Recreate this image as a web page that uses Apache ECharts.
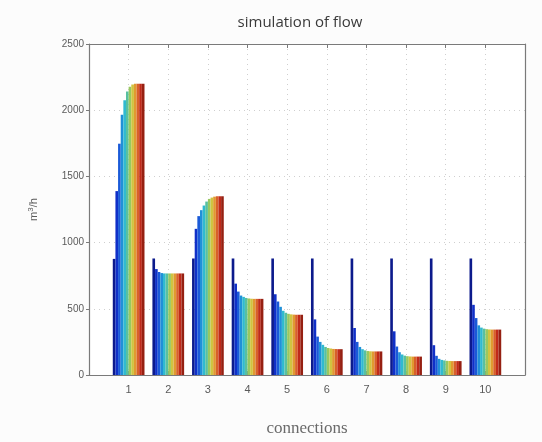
<!DOCTYPE html>
<html>
<head>
<meta charset="utf-8">
<script src="https://cdn.jsdelivr.net/npm/echarts@6/dist/echarts.min.js"></script>
<style>
  html, body { margin: 0; padding: 0; background: #fcfcfc; }
  #chart { width: 542px; height: 442px; }
</style>
</head>
<body>
<div id="chart"></div>
<script>
// flow per connection, one value per simulation step (12 steps)
const conn1 = [877, 1389, 1747, 1966, 2076, 2142, 2178, 2195, 2200, 2200, 2200, 2200];
const conn2 = [880, 800, 778, 770, 767, 767, 767, 767, 767, 767, 767, 767];
const conn3 = [880, 1104, 1200, 1245, 1280, 1310, 1330, 1340, 1347, 1350, 1350, 1350];
const conn4 = [880, 690, 630, 600, 590, 582, 578, 576, 575, 575, 575, 575];
const conn5 = [880, 610, 555, 515, 485, 470, 462, 458, 456, 455, 455, 455];
const conn6 = [880, 420, 290, 250, 228, 212, 204, 200, 197, 196, 195, 195];
const conn7 = [880, 355, 250, 212, 195, 186, 181, 179, 178, 178, 178, 178];
const conn8 = [880, 330, 215, 172, 155, 146, 142, 140, 139, 139, 139, 139];
const conn9 = [880, 225, 145, 122, 114, 110, 107, 106, 105, 105, 105, 105];
const conn10 = [880, 530, 430, 375, 358, 350, 346, 344, 343, 343, 343, 343];

const connections = [1, 2, 3, 4, 5, 6, 7, 8, 9, 10];
const yTicks = [0, 500, 1000, 1500, 2000, 2500];

// jet-like colormap, one colour per step
const stepColors = [
  "#0c1a8c", "#1030c8", "#1a5ad8", "#2090d8", "#30bad0", "#58c0a0",
  "#98c860", "#d0c440", "#e09a30", "#d8602a", "#c02a1a", "#962012",
];

const groups = [conn1, conn2, conn3, conn4, conn5, conn6, conn7, conn8, conn9, conn10];

const series = stepColors.map((color, k) => ({
  type: "bar",
  xAxisIndex: 0,
  yAxisIndex: 0,
  barGap: "0%",
  barCategoryGap: "20%",
  itemStyle: { color: color },
  data: connections.map((c, i) => [c, groups[i][k]]),
}));

const axisGray = "#7a7a7a";
const labelGray = "#5a5a5a";

const option = {
  animation: false,
  backgroundColor: "#fcfcfc",
  title: {
    text: "simulation of flow",
    left: 295,
    textAlign: "center",
    top: 10,
    textStyle: {
      fontFamily: "Open Sans",
      fontWeight: "normal",
      fontSize: 15,
      color: "#3a3a3a",
    },
  },
  grid: { left: 89, right: 17, top: 44, bottom: 56, backgroundColor: "#fff", show: true, borderWidth: 0 },
  xAxis: [
    {
      type: "value",
      min: 0,
      max: 11,
      interval: 1,
      position: "bottom",
      name: "connections",
      nameLocation: "middle",
      nameGap: 45,
      nameTextStyle: { fontFamily: "Liberation Serif", fontSize: 17, color: "#6a6a6a" },
      axisLine: { onZero: false, lineStyle: { color: axisGray, width: 1.2 } },
      axisTick: { inside: true, length: 4, lineStyle: { color: axisGray } },
      axisLabel: {
        color: labelGray,
        fontFamily: "Liberation Sans",
        fontSize: 11,
        margin: 9,
        formatter: (v) => (connections.includes(v) ? String(v) : ""),
      },
      splitLine: { show: true, lineStyle: { color: "#cfcfcf", type: [1, 4] } },
    },
    {
      type: "value",
      min: 0,
      max: 11,
      interval: 1,
      position: "top",
      axisLine: { onZero: false, lineStyle: { color: axisGray, width: 1.2 } },
      axisTick: { inside: true, length: 4, lineStyle: { color: axisGray } },
      axisLabel: { show: false },
      splitLine: { show: false },
    },
  ],
  yAxis: [
    {
      type: "value",
      min: yTicks[0],
      max: yTicks[yTicks.length - 1],
      interval: 500,
      name: "{a|m}{s|3}{a|/h}",
      nameLocation: "middle",
      nameGap: 48,
      nameRotate: 90,
      nameTextStyle: {
        rich: {
          a: { fontFamily: "Liberation Sans", fontSize: 11, color: labelGray },
          s: { fontFamily: "Liberation Sans", fontSize: 8, color: labelGray, verticalAlign: "top", padding: [0, 0, 6, 0] },
        },
      },
      axisLine: { show: true, onZero: false, lineStyle: { color: axisGray, width: 1.2 } },
      axisTick: { show: true, inside: false, length: 3, lineStyle: { color: axisGray } },
      axisLabel: {
        color: labelGray,
        fontFamily: "Liberation Sans",
        fontSize: 10,
        margin: 5,
        formatter: (v) => String(v),
      },
      splitLine: { show: true, lineStyle: { color: "#cfcfcf", type: [1, 4] } },
    },
    {
      type: "value",
      min: 0,
      max: 2500,
      interval: 500,
      position: "right",
      axisLine: { show: true, onZero: false, lineStyle: { color: axisGray, width: 1.2 } },
      axisTick: { show: false },
      axisLabel: { show: false },
      splitLine: { show: false },
    },
  ],
  series: series,
};

echarts.init(document.getElementById("chart")).setOption(option);
</script>
</body>
</html>
